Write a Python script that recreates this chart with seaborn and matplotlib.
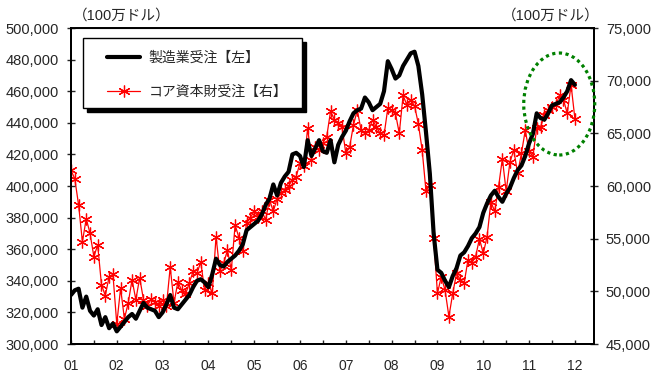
import numpy as np
import pandas as pd
import matplotlib
matplotlib.use("Agg")
import matplotlib.pyplot as plt
import seaborn as sns
from matplotlib.patches import Ellipse, Rectangle
from matplotlib.ticker import FuncFormatter

# monthly data, Jan 2001 - Jan 2012 (100万ドル)
mfg_orders = [
    331000, 334000, 335000, 323000, 330000, 321000, 318000, 322000, 312000, 317000, 310000, 313000,
    308000, 311000, 314000, 317000, 319000, 316000, 321000, 326000, 323000, 322000, 321000, 317000,
    320000, 325000, 331000, 323000, 322000, 325000, 328000, 331000, 336000, 340000, 341000, 339000,
    336000, 344000, 354000, 350000, 349000, 352000, 354000, 356000, 359000, 363000, 372000, 374000,
    376000, 378000, 382000, 388000, 392000, 401000, 394000, 402000, 406000, 409000, 420000, 421000,
    419000, 412000, 429000, 419000, 424000, 429000, 422000, 421000, 429000, 415000, 426000, 431000,
    435000, 441000, 446000, 448000, 449000, 456000, 453000, 448000, 450000, 452000, 460000, 479000,
    474000, 468000, 470000, 476000, 480000, 484000, 485000, 476000, 458000, 434000, 408000, 370000,
    347000, 345000, 340000, 336000, 343000, 348000, 356000, 358000, 362000, 367000, 370000, 374000,
    383000, 389000, 394000, 397000, 393000, 390000, 395000, 399000, 405000, 410000, 413000, 419000,
    427000, 433000, 446000, 443000, 442000, 446000, 451000, 452000, 453000, 456000, 460000, 467000,
    464000,
]
core_capital = [
    61500, 60700, 58200, 54700, 56900, 55500, 53300, 54400, 50600, 49600, 51400, 51600,
    46900, 50300, 47400, 48900, 51100, 49200, 51300, 49200, 48600, 49300, 49000, 48600,
    49200, 48600, 52300, 48900, 50900, 50100, 49700, 50800, 51900, 51700, 52800, 50100,
    50800, 49800, 55200, 51900, 52700, 53900, 52000, 56300, 55100, 53800, 56500, 57000,
    57600, 57100, 57600, 56800, 58700, 57600, 58800, 59300, 59600, 60000, 60600, 60900,
    62200, 61900, 65500, 62500, 63700, 63400, 64100, 64700, 67100, 66300, 66000, 65600,
    63100, 63700, 65800, 67200, 65300, 65000, 65300, 66300, 65600, 65000, 64800, 67400,
    67200, 66900, 65000, 68600, 67700, 68200, 67600, 65900, 63400, 59500, 60100, 55100,
    49800, 51400, 50100, 47600, 49800, 51700, 51100, 50800, 53000, 52700, 53300, 55000,
    53600, 55200, 58500, 57600, 59900, 62600, 59500, 62300, 63400, 61200, 63100, 65300,
    63300, 62800, 65500, 65600, 66700, 67200, 67500, 67700, 68600, 68200, 66900, 69600,
    66400,
]
year_labels = ["01", "02", "03", "04", "05", "06", "07", "08", "09", "10", "11", "12"]
series_names = ["製造業受注【左】", "コア資本財受注【右】"]
unit_label = "（100万ドル）"

df = pd.DataFrame({"m": np.arange(len(mfg_orders)), "mfg": mfg_orders, "core": core_capital})

sns.set_style("ticks")
plt.rcParams["font.family"] = ["Liberation Sans", "Noto Sans CJK JP"]

fig = plt.figure(figsize=(6.51, 3.74), dpi=100)
ax = fig.add_axes([0.109, 0.0802, 0.8034, 0.8449])
ax2 = ax.twinx()

sns.lineplot(data=df, x="m", y="core", ax=ax2, color="red", lw=0.9,
             marker=(6, 2, 0), markersize=8.5, markeredgecolor="red",
             markeredgewidth=0.9, legend=False)
sns.lineplot(data=df, x="m", y="mfg", ax=ax, color="black", lw=3,
             solid_joinstyle="round", legend=False)

ax.set_zorder(ax2.get_zorder() + 1)
ax.patch.set_visible(False)

ax.set_xlim(0, 137)
ax.set_ylim(300000, 500000)
ax2.set_ylim(45000, 75000)
ax.set_yticks(range(300000, 500001, 20000))
ax2.set_yticks(range(45000, 75001, 5000))
fmt = FuncFormatter(lambda v, p: f"{int(v):,}")
ax.yaxis.set_major_formatter(fmt)
ax2.yaxis.set_major_formatter(fmt)

xt = list(range(0, 137, 6))
ax.set_xticks(xt)
ax.set_xticklabels([year_labels[t // 12] if t % 12 == 0 else "" for t in xt])

for a in (ax, ax2):
    a.set_xlabel("")
    a.set_ylabel("")
    for s in a.spines.values():
        s.set_linewidth(1.4)
        s.set_color("black")
ax.spines["top"].set_linewidth(0.8)

ax.tick_params(axis="y", direction="inout", length=6, width=1, pad=5.5, labelsize=10.5)
ax2.tick_params(axis="y", direction="inout", length=6, width=1, pad=5.5, labelsize=10.5)
ax.tick_params(axis="x", direction="in", length=3, width=1, pad=11, labelsize=10)

# legend with frame and solid shadow
sh = Rectangle((0.0229 + 0.0076, 0.7468 - 0.0127), 0.4187, 0.2215, transform=ax.transAxes,
               facecolor="black", edgecolor="black", zorder=4, clip_on=False)
fr = Rectangle((0.0229, 0.7468), 0.4187, 0.2215, transform=ax.transAxes,
               facecolor="white", edgecolor="black", lw=1, zorder=4.1, clip_on=False)
ax.add_patch(sh)
ax.add_patch(fr)
handles = [ax.get_lines()[0], ax2.get_lines()[0]]
leg = ax.legend(handles, series_names, loc="upper left", bbox_to_anchor=(0.0688, 0.927),
                frameon=False, borderpad=0, borderaxespad=0, handlelength=2.4,
                handletextpad=0.6, labelspacing=1.4, fontsize=10)
leg.set_zorder(5)

# dotted circle around latest data
ell = Ellipse((127.9, 451900), 18.6, 64557, fill=False, edgecolor="#008000", lw=2.3,
              linestyle=(0, (1, 1.1)), zorder=6, clip_on=False)
ax.add_patch(ell)

fig.text(0.112, 0.958, unit_label, fontsize=10.5, ha="left", va="center")
fig.text(0.921, 0.958, unit_label, fontsize=10.5, ha="right", va="center")

fig.savefig("out.png", dpi=100)
